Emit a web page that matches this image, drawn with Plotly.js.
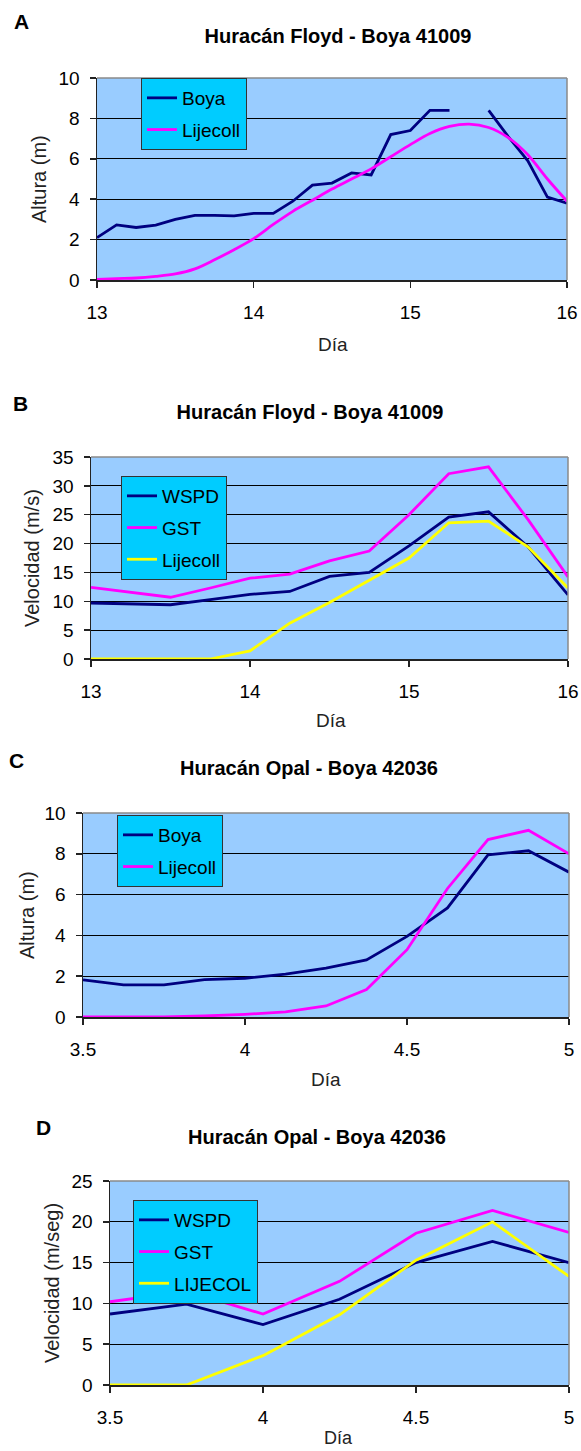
<!DOCTYPE html>
<html>
<head>
<meta charset="utf-8">
<script src="https://cdn.plot.ly/plotly-3.0.1.min.js"></script>
<style>
  html, body { margin: 0; padding: 0; background: #ffffff; }
  .panel { width: 581px; overflow: hidden; }
</style>
</head>
<body>
<div id="panelA" class="panel" style="height:362px"></div>
<div id="panelB" class="panel" style="height:368px"></div>
<div id="panelC" class="panel" style="height:362px"></div>
<div id="panelD" class="panel" style="height:359px"></div>
<script>
// ---- Huracán Floyd, boya 41009: altura de ola (cada 3 horas) ----
const diasFloydOla = [13, 13.125, 13.25, 13.375, 13.5, 13.625, 13.75, 13.875, 14, 14.125, 14.25, 14.375, 14.5,
                      14.625, 14.75, 14.875, 15, 15.125, 15.25, 15.375, 15.5, 15.625, 15.75, 15.875, 16];
const boyaFloydAltura = [2.1, 2.73, 2.6, 2.72, 3.0, 3.2, 3.2, 3.17, 3.3, 3.3, 3.9, 4.7, 4.8,
                         5.3, 5.2, 7.2, 7.4, 8.4, 8.4, null, 8.4, 7.1, 5.9, 4.1, 3.8];
const lijecollFloydAltura = [0.03, 0.07, 0.1, 0.18, 0.3, 0.55, 1.0, 1.5, 2.05, 2.75, 3.4, 3.95, 4.5,
                             5.0, 5.5, 6.1, 6.7, 7.25, 7.6, 7.72, 7.55, 7.05, 6.2, 5.0, 3.9];

// ---- Huracán Floyd, boya 41009: velocidad del viento (cada 6 horas) ----
const diasFloydViento = [13, 13.25, 13.5, 13.75, 14, 14.25, 14.5, 14.75, 15, 15.25, 15.5, 15.75, 16];
const wspdFloyd = [9.7, 9.6, 9.4, 10.3, 11.2, 11.7, 14.3, 15.0, 19.6, 24.6, 25.5, 19.4, 11.1];
const gstFloyd = [12.4, 11.5, 10.7, 12.3, 14.0, 14.7, 17.0, 18.7, 25.0, 32.1, 33.3, 24.1, 14.2];
const lijecollFloydViento = [0, 0, 0, 0, 1.4, 6.2, 9.8, 13.7, 17.5, 23.6, 23.9, 19.4, 12.3];

// ---- Huracán Opal, boya 42036: altura de ola ----
const diasOpalOla = [3.5, 3.625, 3.75, 3.875, 4, 4.125, 4.25, 4.375, 4.5, 4.625, 4.75, 4.875, 5];
const boyaOpalAltura = [1.82, 1.57, 1.57, 1.83, 1.9, 2.1, 2.4, 2.8, 3.95, 5.35, 7.95, 8.15, 7.1];
const lijecollOpalAltura = [0, 0, 0, 0.05, 0.13, 0.25, 0.54, 1.35, 3.3, 6.3, 8.7, 9.15, 8.0];

// ---- Huracán Opal, boya 42036: velocidad del viento ----
const diasOpalViento = [3.5, 3.75, 4, 4.25, 4.5, 4.75, 5];
const wspdOpal = [8.7, 9.9, 7.4, 10.5, 15.0, 17.6, 15.0];
const gstOpal = [10.2, 11.5, 8.7, 12.7, 18.6, 21.4, 18.7];
const lijecolOpalViento = [0, 0, 3.6, 8.6, 15.3, 20.0, 13.3];

// ---- textos ----
const tituloFloyd = 'Huracán Floyd - Boya 41009';
const tituloOpal = 'Huracán Opal - Boya 42036';
const ejeX = 'Día';

// ---- estilo ----
const FONT = 'Liberation Sans, Arial, Helvetica, sans-serif';
const NAVY = '#000080', MAGENTA = '#FF00FF', YELLOW = '#FFFF00';
const PAGE_W = 581;

function serie(x, y, name, color, shape) {
  return {
    type: 'scatter', mode: 'lines', x: x, y: y, name: name,
    legendgroup: name, connectgaps: false,
    line: { color: color, width: 2.8, shape: shape || 'linear', smoothing: 0.9 }
  };
}

function panel(cfg) {
  const H = cfg.height;
  const l = cfg.box.l, r = cfg.box.r;
  const t = cfg.box.t - cfg.top, b = cfg.box.b - cfg.top;
  const px = x => (x - l) / (r - l);
  const py = y => (b - (y - cfg.top)) / (b - t);

  const layout = {
    width: PAGE_W, height: H,
    margin: { l: l, r: PAGE_W - r, t: t, b: H - b, pad: 0 },
    paper_bgcolor: '#ffffff', plot_bgcolor: '#99CCFF',
    font: { family: FONT, color: '#000' },
    title: {
      text: cfg.title,
      font: { family: FONT, size: 20, weight: 'bold', color: '#000' },
      xref: 'container', yref: 'container',
      x: cfg.titlePos[0] / PAGE_W, y: 1 - (cfg.titlePos[1] - cfg.top) / H,
      xanchor: 'center', yanchor: 'middle'
    },
    showlegend: true,
    legend: {
      x: px(cfg.legendPos[0]), y: py(cfg.legendPos[1]),
      xanchor: 'left', yanchor: 'top',
      bgcolor: '#00CCFF', bordercolor: '#333333', borderwidth: 1,
      font: { family: FONT, size: 19, color: '#000' },
      tracegroupgap: 4, itemwidth: 30
    },
    xaxis: {
      range: cfg.xRange, tick0: cfg.xRange[0], dtick: cfg.xDtick,
      ticks: 'outside', ticklen: 6, tickwidth: 1.5, tickcolor: '#222',
      showline: true, linecolor: '#222', linewidth: 1.5,
      showgrid: false, zeroline: false,
      tickfont: { family: FONT, size: 19, color: '#000' },
      ticklabelstandoff: 9, fixedrange: true
    },
    yaxis: {
      range: cfg.yRange, tick0: 0, dtick: cfg.yDtick,
      ticks: 'outside', ticklen: 6, tickwidth: 1.5, tickcolor: '#222',
      showline: true, linecolor: '#222', linewidth: 1.5,
      showgrid: true, gridcolor: '#000000', gridwidth: 1, zeroline: false,
      tickfont: { family: FONT, size: 19, color: '#000' },
      ticklabelstandoff: 6, fixedrange: true
    },
    shapes: [
      // borde gris superior y derecho del área de trazado
      { type: 'line', xref: 'paper', yref: 'paper', x0: 0, x1: 1, y0: 1, y1: 1,
        line: { color: '#8a8a8a', width: 1.5 }, layer: 'above' },
      { type: 'line', xref: 'paper', yref: 'paper', x0: 1, x1: 1, y0: 0, y1: 1,
        line: { color: '#8a8a8a', width: 1.5 }, layer: 'above' }
    ],
    annotations: [
      { text: cfg.letter, xref: 'paper', yref: 'paper',
        x: px(cfg.letterPos[0]), y: py(cfg.letterPos[1]),
        xanchor: 'center', yanchor: 'middle', showarrow: false,
        font: { family: FONT, size: 21, weight: 'bold', color: '#000' } },
      { text: cfg.yTitle, xref: 'paper', yref: 'paper', textangle: -90,
        x: px(cfg.yTitlePos[0]), y: py(cfg.yTitlePos[1]),
        xanchor: 'center', yanchor: 'middle', showarrow: false,
        font: { family: FONT, size: 20, color: '#222' } },
      { text: ejeX, xref: 'paper', yref: 'paper',
        x: px(cfg.xTitlePos[0]), y: py(cfg.xTitlePos[1]),
        xanchor: 'center', yanchor: 'middle', showarrow: false, borderpad: 0,
        font: { family: FONT, size: cfg.xTitleSize || 19, color: '#222' } }
    ]
  };
  Plotly.newPlot(cfg.id, cfg.traces, layout, { staticPlot: true, displayModeBar: false });
}

panel({
  id: 'panelA', top: 0, height: 362,
  box: { l: 97, r: 567, t: 78, b: 280 },
  title: tituloFloyd, titlePos: [338, 36],
  letter: 'A', letterPos: [21, 22],
  yTitle: 'Altura (m)', yTitlePos: [39, 179],
  xTitlePos: [333, 344],
  xRange: [13, 16], xDtick: 1, yRange: [0, 10], yDtick: 2,
  legendPos: [141, 78],
  traces: [
    serie(diasFloydOla, boyaFloydAltura, 'Boya', NAVY),
    serie(diasFloydOla, lijecollFloydAltura, 'Lijecoll', MAGENTA, 'spline')
  ]
});

panel({
  id: 'panelB', top: 362, height: 368,
  box: { l: 91, r: 568, t: 457, b: 659 },
  title: tituloFloyd, titlePos: [310, 412],
  letter: 'B', letterPos: [20, 403],
  yTitle: 'Velocidad (m/s)', yTitlePos: [32, 558],
  xTitlePos: [331, 720],
  xRange: [13, 16], xDtick: 1, yRange: [0, 35], yDtick: 5,
  legendPos: [121, 476],
  traces: [
    serie(diasFloydViento, wspdFloyd, 'WSPD', NAVY),
    serie(diasFloydViento, gstFloyd, 'GST', MAGENTA),
    serie(diasFloydViento, lijecollFloydViento, 'Lijecoll', YELLOW)
  ]
});

panel({
  id: 'panelC', top: 730, height: 362,
  box: { l: 83, r: 569, t: 813, b: 1017 },
  title: tituloOpal, titlePos: [309, 768],
  letter: 'C', letterPos: [16, 760],
  yTitle: 'Altura (m)', yTitlePos: [27, 915],
  xTitlePos: [326, 1079],
  xRange: [3.5, 5], xDtick: 0.5, yRange: [0, 10], yDtick: 2,
  legendPos: [117, 815],
  traces: [
    serie(diasOpalOla, boyaOpalAltura, 'Boya', NAVY),
    serie(diasOpalOla, lijecollOpalAltura, 'Lijecoll', MAGENTA)
  ]
});

panel({
  id: 'panelD', top: 1092, height: 359,
  box: { l: 110, r: 569, t: 1181, b: 1385 },
  title: tituloOpal, titlePos: [317, 1137],
  letter: 'D', letterPos: [43, 1127],
  yTitle: 'Velocidad (m/seg)', yTitlePos: [52, 1283],
  xTitlePos: [338, 1438], xTitleSize: 18,
  xRange: [3.5, 5], xDtick: 0.5, yRange: [0, 25], yDtick: 5,
  legendPos: [133, 1200],
  traces: [
    serie(diasOpalViento, wspdOpal, 'WSPD', NAVY),
    serie(diasOpalViento, gstOpal, 'GST', MAGENTA),
    serie(diasOpalViento, lijecolOpalViento, 'LIJECOL', YELLOW)
  ]
});
</script>
</body>
</html>
